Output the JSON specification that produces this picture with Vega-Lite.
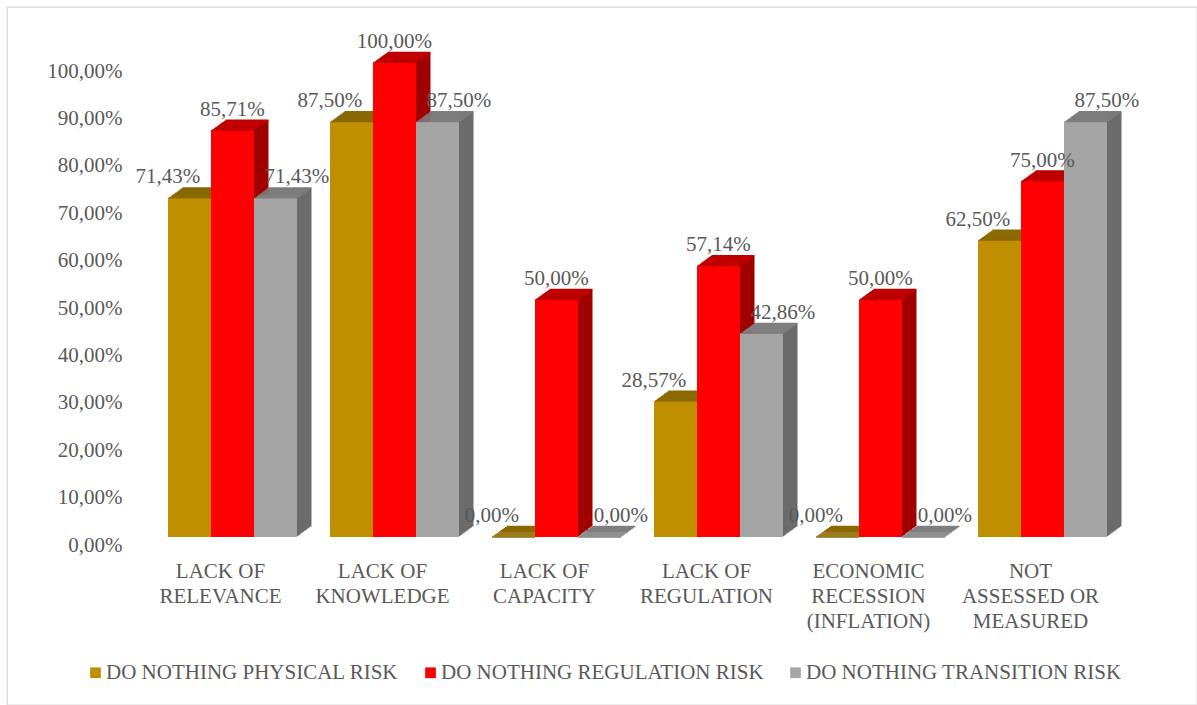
{
  "$schema": "https://vega.github.io/schema/vega-lite/v6.json",
  "width": 1190,
  "height": 698,
  "autosize": {"type": "none"},
  "padding": {"left": 7, "top": 7, "right": 0, "bottom": 0},
  "background": "white",
  "config": {
    "font": "Liberation Serif",
    "view": {"stroke": "#D9D9D9", "strokeWidth": 1.3},
    "locale": {"number": {"decimal": ",", "thousands": ".", "grouping": [3], "currency": ["", " €"]}},
    "axis": {"labelFont": "Liberation Serif", "labelFontSize": 21, "labelColor": "#595959", "domain": false, "ticks": false, "tickSize": 0, "grid": false}
  },
  "data": {"values": [
    {"category": "LACK OF\nRELEVANCE", "series": "DO NOTHING PHYSICAL RISK", "value": 0.7143},
    {"category": "LACK OF\nRELEVANCE", "series": "DO NOTHING REGULATION RISK", "value": 0.8571},
    {"category": "LACK OF\nRELEVANCE", "series": "DO NOTHING TRANSITION RISK", "value": 0.7143},
    {"category": "LACK OF\nKNOWLEDGE", "series": "DO NOTHING PHYSICAL RISK", "value": 0.875},
    {"category": "LACK OF\nKNOWLEDGE", "series": "DO NOTHING REGULATION RISK", "value": 1.0},
    {"category": "LACK OF\nKNOWLEDGE", "series": "DO NOTHING TRANSITION RISK", "value": 0.875},
    {"category": "LACK OF\nCAPACITY", "series": "DO NOTHING PHYSICAL RISK", "value": 0},
    {"category": "LACK OF\nCAPACITY", "series": "DO NOTHING REGULATION RISK", "value": 0.5},
    {"category": "LACK OF\nCAPACITY", "series": "DO NOTHING TRANSITION RISK", "value": 0},
    {"category": "LACK OF\nREGULATION", "series": "DO NOTHING PHYSICAL RISK", "value": 0.2857},
    {"category": "LACK OF\nREGULATION", "series": "DO NOTHING REGULATION RISK", "value": 0.5714},
    {"category": "LACK OF\nREGULATION", "series": "DO NOTHING TRANSITION RISK", "value": 0.4286},
    {"category": "ECONOMIC\nRECESSION\n(INFLATION)", "series": "DO NOTHING PHYSICAL RISK", "value": 0},
    {"category": "ECONOMIC\nRECESSION\n(INFLATION)", "series": "DO NOTHING REGULATION RISK", "value": 0.5},
    {"category": "ECONOMIC\nRECESSION\n(INFLATION)", "series": "DO NOTHING TRANSITION RISK", "value": 0},
    {"category": "NOT\nASSESSED OR\nMEASURED", "series": "DO NOTHING PHYSICAL RISK", "value": 0.625},
    {"category": "NOT\nASSESSED OR\nMEASURED", "series": "DO NOTHING REGULATION RISK", "value": 0.75},
    {"category": "NOT\nASSESSED OR\nMEASURED", "series": "DO NOTHING TRANSITION RISK", "value": 0.875}
  ]},
  "encoding": {
    "x": {
      "field": "category", "type": "nominal", "sort": null,
      "scale": {"range": [128, 1133], "paddingInner": 0.2037, "paddingOuter": 0.2037},
      "axis": {"title": null, "orient": "bottom", "offset": -168, "labelPadding": 23, "labelOffset": -12, "labelAngle": 0, "labelLineHeight": 25, "labelBaseline": "top", "labelExpr": "split(datum.label, '\\n')", "labelLimit": 300}
    },
    "y": {
      "field": "value", "type": "quantitative",
      "scale": {"domain": [0, 1], "range": [530, 56], "nice": false},
      "axis": {"title": null, "offset": -128, "labelPadding": 13, "labelOffset": 8, "values": [0, 0.1, 0.2, 0.3, 0.4, 0.5, 0.6, 0.7, 0.8, 0.9, 1], "format": ".2%"}
    }
  },
  "layer": [
    {"mark": {"type": "bar", "yOffset": -1.05, "y2Offset": -1.05}, "encoding": {"xOffset": {"field": "series", "type": "nominal", "sort": null, "scale": {"range": [1.45, 130.45], "paddingInner": 0, "paddingOuter": 0}}, "color": {"field": "series", "type": "nominal", "scale": {"domain": ["DO NOTHING PHYSICAL RISK", "DO NOTHING REGULATION RISK", "DO NOTHING TRANSITION RISK"], "range": ["#735600", "#A00000", "#6B6B6B"]}, "legend": null}}},
    {"mark": {"type": "bar", "yOffset": -2.1, "y2Offset": -2.1}, "encoding": {"xOffset": {"field": "series", "type": "nominal", "sort": null, "scale": {"range": [2.9, 131.9], "paddingInner": 0, "paddingOuter": 0}}, "color": {"field": "series", "type": "nominal", "scale": {"domain": ["DO NOTHING PHYSICAL RISK", "DO NOTHING REGULATION RISK", "DO NOTHING TRANSITION RISK"], "range": ["#735600", "#A00000", "#6B6B6B"]}, "legend": null}}},
    {"mark": {"type": "bar", "yOffset": -3.15, "y2Offset": -3.15}, "encoding": {"xOffset": {"field": "series", "type": "nominal", "sort": null, "scale": {"range": [4.35, 133.35], "paddingInner": 0, "paddingOuter": 0}}, "color": {"field": "series", "type": "nominal", "scale": {"domain": ["DO NOTHING PHYSICAL RISK", "DO NOTHING REGULATION RISK", "DO NOTHING TRANSITION RISK"], "range": ["#735600", "#A00000", "#6B6B6B"]}, "legend": null}}},
    {"mark": {"type": "bar", "yOffset": -4.2, "y2Offset": -4.2}, "encoding": {"xOffset": {"field": "series", "type": "nominal", "sort": null, "scale": {"range": [5.8, 134.8], "paddingInner": 0, "paddingOuter": 0}}, "color": {"field": "series", "type": "nominal", "scale": {"domain": ["DO NOTHING PHYSICAL RISK", "DO NOTHING REGULATION RISK", "DO NOTHING TRANSITION RISK"], "range": ["#735600", "#A00000", "#6B6B6B"]}, "legend": null}}},
    {"mark": {"type": "bar", "yOffset": -5.25, "y2Offset": -5.25}, "encoding": {"xOffset": {"field": "series", "type": "nominal", "sort": null, "scale": {"range": [7.25, 136.25], "paddingInner": 0, "paddingOuter": 0}}, "color": {"field": "series", "type": "nominal", "scale": {"domain": ["DO NOTHING PHYSICAL RISK", "DO NOTHING REGULATION RISK", "DO NOTHING TRANSITION RISK"], "range": ["#735600", "#A00000", "#6B6B6B"]}, "legend": null}}},
    {"mark": {"type": "bar", "yOffset": -6.3, "y2Offset": -6.3}, "encoding": {"xOffset": {"field": "series", "type": "nominal", "sort": null, "scale": {"range": [8.7, 137.7], "paddingInner": 0, "paddingOuter": 0}}, "color": {"field": "series", "type": "nominal", "scale": {"domain": ["DO NOTHING PHYSICAL RISK", "DO NOTHING REGULATION RISK", "DO NOTHING TRANSITION RISK"], "range": ["#735600", "#A00000", "#6B6B6B"]}, "legend": null}}},
    {"mark": {"type": "bar", "yOffset": -7.35, "y2Offset": -7.35}, "encoding": {"xOffset": {"field": "series", "type": "nominal", "sort": null, "scale": {"range": [10.15, 139.15], "paddingInner": 0, "paddingOuter": 0}}, "color": {"field": "series", "type": "nominal", "scale": {"domain": ["DO NOTHING PHYSICAL RISK", "DO NOTHING REGULATION RISK", "DO NOTHING TRANSITION RISK"], "range": ["#735600", "#A00000", "#6B6B6B"]}, "legend": null}}},
    {"mark": {"type": "bar", "yOffset": -8.4, "y2Offset": -8.4}, "encoding": {"xOffset": {"field": "series", "type": "nominal", "sort": null, "scale": {"range": [11.6, 140.6], "paddingInner": 0, "paddingOuter": 0}}, "color": {"field": "series", "type": "nominal", "scale": {"domain": ["DO NOTHING PHYSICAL RISK", "DO NOTHING REGULATION RISK", "DO NOTHING TRANSITION RISK"], "range": ["#735600", "#A00000", "#6B6B6B"]}, "legend": null}}},
    {"mark": {"type": "bar", "yOffset": -9.45, "y2Offset": -9.45}, "encoding": {"xOffset": {"field": "series", "type": "nominal", "sort": null, "scale": {"range": [13.05, 142.05], "paddingInner": 0, "paddingOuter": 0}}, "color": {"field": "series", "type": "nominal", "scale": {"domain": ["DO NOTHING PHYSICAL RISK", "DO NOTHING REGULATION RISK", "DO NOTHING TRANSITION RISK"], "range": ["#735600", "#A00000", "#6B6B6B"]}, "legend": null}}},
    {"mark": {"type": "bar", "yOffset": -10.5, "y2Offset": -10.5}, "encoding": {"xOffset": {"field": "series", "type": "nominal", "sort": null, "scale": {"range": [14.5, 143.5], "paddingInner": 0, "paddingOuter": 0}}, "color": {"field": "series", "type": "nominal", "scale": {"domain": ["DO NOTHING PHYSICAL RISK", "DO NOTHING REGULATION RISK", "DO NOTHING TRANSITION RISK"], "range": ["#735600", "#A00000", "#6B6B6B"]}, "legend": null}}},

    {"mark": {"type": "bar", "strokeWidth": 1.3}, "encoding": {"y2": {"field": "value"}, "xOffset": {"field": "series", "type": "nominal", "sort": null, "scale": {"range": [0, 129], "paddingInner": 0, "paddingOuter": 0}}, "color": {"field": "series", "type": "nominal", "scale": {"domain": ["DO NOTHING PHYSICAL RISK", "DO NOTHING REGULATION RISK", "DO NOTHING TRANSITION RISK"], "range": ["#8C6A00", "#C00000", "#7F7F7F"]}, "legend": null}, "stroke": {"field": "series", "type": "nominal", "scale": {"domain": ["DO NOTHING PHYSICAL RISK", "DO NOTHING REGULATION RISK", "DO NOTHING TRANSITION RISK"], "range": ["#8C6A00", "#C00000", "#7F7F7F"]}, "legend": null}}},
    {"mark": {"type": "bar", "strokeWidth": 1.3, "yOffset": -1.05, "y2Offset": -1.05}, "encoding": {"y2": {"field": "value"}, "xOffset": {"field": "series", "type": "nominal", "sort": null, "scale": {"range": [1.45, 130.45], "paddingInner": 0, "paddingOuter": 0}}, "color": {"field": "series", "type": "nominal", "scale": {"domain": ["DO NOTHING PHYSICAL RISK", "DO NOTHING REGULATION RISK", "DO NOTHING TRANSITION RISK"], "range": ["#8C6A00", "#C00000", "#7F7F7F"]}, "legend": null}, "stroke": {"field": "series", "type": "nominal", "scale": {"domain": ["DO NOTHING PHYSICAL RISK", "DO NOTHING REGULATION RISK", "DO NOTHING TRANSITION RISK"], "range": ["#8C6A00", "#C00000", "#7F7F7F"]}, "legend": null}}},
    {"mark": {"type": "bar", "strokeWidth": 1.3, "yOffset": -2.1, "y2Offset": -2.1}, "encoding": {"y2": {"field": "value"}, "xOffset": {"field": "series", "type": "nominal", "sort": null, "scale": {"range": [2.9, 131.9], "paddingInner": 0, "paddingOuter": 0}}, "color": {"field": "series", "type": "nominal", "scale": {"domain": ["DO NOTHING PHYSICAL RISK", "DO NOTHING REGULATION RISK", "DO NOTHING TRANSITION RISK"], "range": ["#8C6A00", "#C00000", "#7F7F7F"]}, "legend": null}, "stroke": {"field": "series", "type": "nominal", "scale": {"domain": ["DO NOTHING PHYSICAL RISK", "DO NOTHING REGULATION RISK", "DO NOTHING TRANSITION RISK"], "range": ["#8C6A00", "#C00000", "#7F7F7F"]}, "legend": null}}},
    {"mark": {"type": "bar", "strokeWidth": 1.3, "yOffset": -3.15, "y2Offset": -3.15}, "encoding": {"y2": {"field": "value"}, "xOffset": {"field": "series", "type": "nominal", "sort": null, "scale": {"range": [4.35, 133.35], "paddingInner": 0, "paddingOuter": 0}}, "color": {"field": "series", "type": "nominal", "scale": {"domain": ["DO NOTHING PHYSICAL RISK", "DO NOTHING REGULATION RISK", "DO NOTHING TRANSITION RISK"], "range": ["#8C6A00", "#C00000", "#7F7F7F"]}, "legend": null}, "stroke": {"field": "series", "type": "nominal", "scale": {"domain": ["DO NOTHING PHYSICAL RISK", "DO NOTHING REGULATION RISK", "DO NOTHING TRANSITION RISK"], "range": ["#8C6A00", "#C00000", "#7F7F7F"]}, "legend": null}}},
    {"mark": {"type": "bar", "strokeWidth": 1.3, "yOffset": -4.2, "y2Offset": -4.2}, "encoding": {"y2": {"field": "value"}, "xOffset": {"field": "series", "type": "nominal", "sort": null, "scale": {"range": [5.8, 134.8], "paddingInner": 0, "paddingOuter": 0}}, "color": {"field": "series", "type": "nominal", "scale": {"domain": ["DO NOTHING PHYSICAL RISK", "DO NOTHING REGULATION RISK", "DO NOTHING TRANSITION RISK"], "range": ["#8C6A00", "#C00000", "#7F7F7F"]}, "legend": null}, "stroke": {"field": "series", "type": "nominal", "scale": {"domain": ["DO NOTHING PHYSICAL RISK", "DO NOTHING REGULATION RISK", "DO NOTHING TRANSITION RISK"], "range": ["#8C6A00", "#C00000", "#7F7F7F"]}, "legend": null}}},
    {"mark": {"type": "bar", "strokeWidth": 1.3, "yOffset": -5.25, "y2Offset": -5.25}, "encoding": {"y2": {"field": "value"}, "xOffset": {"field": "series", "type": "nominal", "sort": null, "scale": {"range": [7.25, 136.25], "paddingInner": 0, "paddingOuter": 0}}, "color": {"field": "series", "type": "nominal", "scale": {"domain": ["DO NOTHING PHYSICAL RISK", "DO NOTHING REGULATION RISK", "DO NOTHING TRANSITION RISK"], "range": ["#8C6A00", "#C00000", "#7F7F7F"]}, "legend": null}, "stroke": {"field": "series", "type": "nominal", "scale": {"domain": ["DO NOTHING PHYSICAL RISK", "DO NOTHING REGULATION RISK", "DO NOTHING TRANSITION RISK"], "range": ["#8C6A00", "#C00000", "#7F7F7F"]}, "legend": null}}},
    {"mark": {"type": "bar", "strokeWidth": 1.3, "yOffset": -6.3, "y2Offset": -6.3}, "encoding": {"y2": {"field": "value"}, "xOffset": {"field": "series", "type": "nominal", "sort": null, "scale": {"range": [8.7, 137.7], "paddingInner": 0, "paddingOuter": 0}}, "color": {"field": "series", "type": "nominal", "scale": {"domain": ["DO NOTHING PHYSICAL RISK", "DO NOTHING REGULATION RISK", "DO NOTHING TRANSITION RISK"], "range": ["#8C6A00", "#C00000", "#7F7F7F"]}, "legend": null}, "stroke": {"field": "series", "type": "nominal", "scale": {"domain": ["DO NOTHING PHYSICAL RISK", "DO NOTHING REGULATION RISK", "DO NOTHING TRANSITION RISK"], "range": ["#8C6A00", "#C00000", "#7F7F7F"]}, "legend": null}}},
    {"mark": {"type": "bar", "strokeWidth": 1.3, "yOffset": -7.35, "y2Offset": -7.35}, "encoding": {"y2": {"field": "value"}, "xOffset": {"field": "series", "type": "nominal", "sort": null, "scale": {"range": [10.15, 139.15], "paddingInner": 0, "paddingOuter": 0}}, "color": {"field": "series", "type": "nominal", "scale": {"domain": ["DO NOTHING PHYSICAL RISK", "DO NOTHING REGULATION RISK", "DO NOTHING TRANSITION RISK"], "range": ["#8C6A00", "#C00000", "#7F7F7F"]}, "legend": null}, "stroke": {"field": "series", "type": "nominal", "scale": {"domain": ["DO NOTHING PHYSICAL RISK", "DO NOTHING REGULATION RISK", "DO NOTHING TRANSITION RISK"], "range": ["#8C6A00", "#C00000", "#7F7F7F"]}, "legend": null}}},
    {"mark": {"type": "bar", "strokeWidth": 1.3, "yOffset": -8.4, "y2Offset": -8.4}, "encoding": {"y2": {"field": "value"}, "xOffset": {"field": "series", "type": "nominal", "sort": null, "scale": {"range": [11.6, 140.6], "paddingInner": 0, "paddingOuter": 0}}, "color": {"field": "series", "type": "nominal", "scale": {"domain": ["DO NOTHING PHYSICAL RISK", "DO NOTHING REGULATION RISK", "DO NOTHING TRANSITION RISK"], "range": ["#8C6A00", "#C00000", "#7F7F7F"]}, "legend": null}, "stroke": {"field": "series", "type": "nominal", "scale": {"domain": ["DO NOTHING PHYSICAL RISK", "DO NOTHING REGULATION RISK", "DO NOTHING TRANSITION RISK"], "range": ["#8C6A00", "#C00000", "#7F7F7F"]}, "legend": null}}},
    {"mark": {"type": "bar", "strokeWidth": 1.3, "yOffset": -9.45, "y2Offset": -9.45}, "encoding": {"y2": {"field": "value"}, "xOffset": {"field": "series", "type": "nominal", "sort": null, "scale": {"range": [13.05, 142.05], "paddingInner": 0, "paddingOuter": 0}}, "color": {"field": "series", "type": "nominal", "scale": {"domain": ["DO NOTHING PHYSICAL RISK", "DO NOTHING REGULATION RISK", "DO NOTHING TRANSITION RISK"], "range": ["#8C6A00", "#C00000", "#7F7F7F"]}, "legend": null}, "stroke": {"field": "series", "type": "nominal", "scale": {"domain": ["DO NOTHING PHYSICAL RISK", "DO NOTHING REGULATION RISK", "DO NOTHING TRANSITION RISK"], "range": ["#8C6A00", "#C00000", "#7F7F7F"]}, "legend": null}}},
    {"mark": {"type": "bar", "strokeWidth": 1.3, "yOffset": -10.5, "y2Offset": -10.5}, "encoding": {"y2": {"field": "value"}, "xOffset": {"field": "series", "type": "nominal", "sort": null, "scale": {"range": [14.5, 143.5], "paddingInner": 0, "paddingOuter": 0}}, "color": {"field": "series", "type": "nominal", "scale": {"domain": ["DO NOTHING PHYSICAL RISK", "DO NOTHING REGULATION RISK", "DO NOTHING TRANSITION RISK"], "range": ["#8C6A00", "#C00000", "#7F7F7F"]}, "legend": null}, "stroke": {"field": "series", "type": "nominal", "scale": {"domain": ["DO NOTHING PHYSICAL RISK", "DO NOTHING REGULATION RISK", "DO NOTHING TRANSITION RISK"], "range": ["#8C6A00", "#C00000", "#7F7F7F"]}, "legend": null}}},

    {"mark": {"type": "bar"}, "encoding": {"xOffset": {"field": "series", "type": "nominal", "sort": null, "scale": {"range": [0, 129], "paddingInner": 0, "paddingOuter": 0}}, "color": {"field": "series", "type": "nominal", "scale": {"domain": ["DO NOTHING PHYSICAL RISK", "DO NOTHING REGULATION RISK", "DO NOTHING TRANSITION RISK"], "range": ["#BF8F00", "#FF0000", "#A5A5A5"]}, "legend": {"orient": "none", "legendX": 78, "legendY": 655, "direction": "horizontal", "columns": 3, "title": null, "symbolType": "square", "symbolSize": 115, "symbolStrokeWidth": 0, "symbolOpacity": 1, "labelFont": "Liberation Serif", "labelFontSize": 21, "labelColor": "#595959", "labelLimit": 500, "columnPadding": 21, "labelOffset": 0, "padding": 0}}}},

    {"mark": {"type": "text", "dy": -21, "baseline": "middle", "align": "center", "font": "Liberation Serif", "fontSize": 21, "fill": "#595959"}, "encoding": {"xOffset": {"field": "series", "type": "nominal", "sort": null, "scale": {"range": [0, 129], "paddingInner": 0, "paddingOuter": 0}}, "text": {"field": "value", "type": "quantitative", "format": ".2%"}}}
  ],
  "resolve": {"scale": {"xOffset": "independent", "color": "independent"}}
}
